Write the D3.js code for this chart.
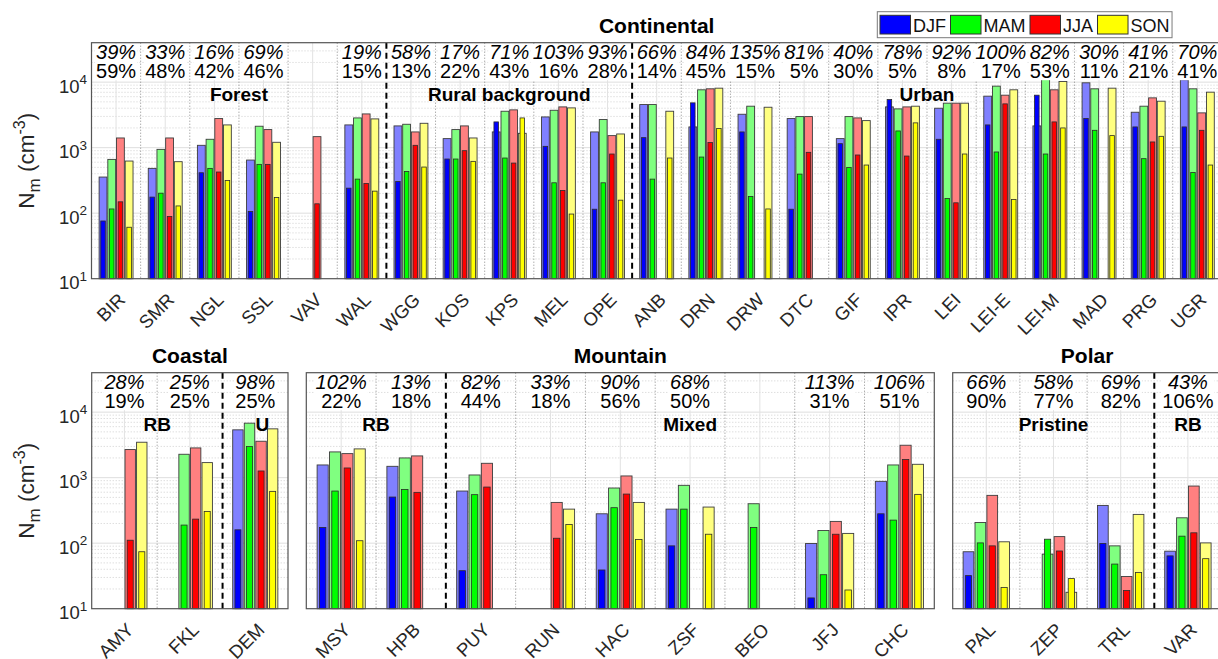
<!DOCTYPE html>
<html><head><meta charset="utf-8">
<script src="https://cdn.jsdelivr.net/npm/d3@7"></script>
<style>body{margin:0;background:#fff} svg{display:block;font-family:"Liberation Sans",Arial,Helvetica,sans-serif}</style>
</head><body><svg id="c" width="1218" height="659"></svg>
<script>
// ---------------- DATA ----------------
const seasons = ["DJF", "MAM", "JJA", "SON"];

// Continental
const contSites = ["BIR","SMR","NGL","SSL","VAV","WAL","WGG","KOS","KPS","MEL","OPE","ANB","DRN","DRW","DTC","GIF","IPR","LEI","LEI-E","LEI-M","MAD","PRG","UGR"];
const contWide = [
  [356,662,1406,625],[483,942,1406,611],[1086,1343,2780,2224],[647,2124,1888,1208],
  [null,null,1473,null],[2224,2844,3273,2748],[2148,2276,1738,2355],[1374,1888,2148,1406],
  [1738,3597,3774,1657],[2944,3723,4190,4045],[1738,2685,1527,1618],[4550,4550,null,3597],
  [2072,7640,7910,8090],[3236,4295,null,4140],[2780,2980,2980,null],[1374,2980,2844,2588],
  [4190,3908,4190,4295],[3998,4775,4775,4775],[6110,8690,6325,7640],[2148,11650,7640,10240],
  [9770,7910,null,8090],[3474,4295,5755,5118],[10870,7910,3396,7030]
];
const contNarrow = [
  [76,116,149,61],[176,202,89,129],[414,483,425,316],[106,556,556,174],
  [null,null,139,null],[241,331,284,217],[305,434,1086,506],[671,671,899,618],
  [2472,695,582,2844],[1048,291,222,97],[115,291,800,158],[1422,331,null,695],
  [4830,719,1195,1955],[1738,180,null,116],[115,395,849,null],[1151,500,773,543],
  [5430,1799,745,2390],[1343,168,144,800],[2224,859,4660,162],[6325,800,2472,2000],
  [2780,1841,null,1527],[2072,679,1222,1490],[2072,419,1841,543]
];
const contPctA = ["39%","33%","16%","69%","","19%","58%","17%","71%","103%","93%","66%","84%","135%","81%","40%","78%","92%","100%","82%","30%","41%","70%"];
const contPctB = ["59%","48%","42%","46%","","15%","13%","22%","43%","16%","28%","14%","45%","15%","5%","30%","5%","8%","17%","53%","11%","21%","41%"];
const contGroups = [["Forest",0,5],["Rural background",6,10],["Urban",11,22]];

// Coastal
const coastSites = ["AMY","FKL","DEM"];
const coastWide = [[null,null,2685,3474],[null,2276,2844,1698],[5370,6790,3597,5560]];
const coastNarrow = [[null,null,111,74],[null,189,233,305],[160,2980,1265,618]];
const coastPctA = ["28%","25%","98%"];
const coastPctB = ["19%","25%","25%"];
const coastGroups = [["RB",0,1],["U",2,2]];

// Mountain
const mountSites = ["MSY","HPB","PUY","RUN","HAC","ZSF","BEO","JFJ","CHC"];
const mountWide = [[1563,2472,2328,2748],[1490,2000,2148,null],[625,1099,1657,null],[null,null,419,331],
  [281,695,1062,419],[331,764,null,356],[null,400,null,null],[99,156,215,141],[879,1563,3126,1600]];
const mountNarrow = [[174,625,1406,109],[506,662,597,null],[38,550,719,null],[null,null,119,193],
  [39,348,562,114],[91,331,null,137],[null,174,null,null],[14.6,33,137,19.3],[281,225,1888,556]];
const mountPctA = ["102%","13%","82%","33%","90%","68%","","113%","106%"];
const mountPctB = ["22%","18%","44%","18%","56%","50%","","31%","51%"];
const mountGroups = [["RB",0,1],["Mixed",2,8]];

// Polar
const polarSites = ["PAL","ZEP","TRL","VAR"];
const polarWide = [[74,207,537,105],[null,68,126,17.8],[377,91,31,275],[75.5,244,745,101]];
const polarNarrow = [[32,101,91,21],[null,115,76,28.8],[99,48,18.9,35.6],[64,128,144,58]];
const polarPctA = ["66%","58%","69%","43%"];
const polarPctB = ["90%","77%","82%","106%"];
const polarGroups = [["Pristine",0,2],["RB",3,3]];

const yTicks = [10, 100, 1000, 10000];

// ---------------- DRAW ----------------
const svg = d3.select("#c");
const darkCol = {DJF:"#0000ff", MAM:"#00ff00", JJA:"#ff0000", SON:"#ffff00"};
const lightCol = {DJF:"#8080ff", MAM:"#80ff80", JJA:"#ff8080", SON:"#ffff80"};

function drawPanel(c) {
  const g = svg.append("g");
  const x = d3.scaleBand().domain(c.sites).range([c.x0, c.x1]);
  const bw = x.bandwidth();
  const xs = d3.scaleBand().domain(seasons).range([bw*0.155, bw*0.845]).paddingInner(0.1);
  const y = d3.scaleLog().domain([10, 40000]).range([c.y1, c.y0]);

  g.append("rect").attr("x", c.x0).attr("y", c.y0).attr("width", c.x1-c.x0).attr("height", c.y1-c.y0).attr("fill","#fff");

  // minor grid
  const minor = [];
  for (let d = 10; d < 40000; d *= 10) for (let k = 2; k <= 9; k++) { if (d*k < 40000) minor.push(d*k); }
  g.selectAll(null).data(minor).enter().append("line")
    .attr("x1", c.x0).attr("x2", c.x1).attr("y1", d => y(d)).attr("y2", d => y(d))
    .attr("stroke", "#cfcfcf").attr("stroke-width", 1).attr("stroke-dasharray", "1,2");
  // major grid
  g.selectAll(null).data(yTicks.slice(1)).enter().append("line")
    .attr("x1", c.x0).attr("x2", c.x1).attr("y1", d => y(d)).attr("y2", d => y(d))
    .attr("stroke", "#dedede").attr("stroke-width", 1);
  // vertical major grid at categories
  g.selectAll(null).data(c.sites).enter().append("line")
    .attr("x1", d => x(d)+bw/2).attr("x2", d => x(d)+bw/2).attr("y1", c.y0).attr("y2", c.y1)
    .attr("stroke", "#e2e2e2").attr("stroke-width", 1);

  // separators
  const groupEnds = new Set(c.groups.slice(0,-1).map(gr => gr[2]));
  for (let i = 0; i < c.sites.length-1; i++) {
    const xb = x(c.sites[i]) + bw;
    const dashed = groupEnds.has(i);
    g.append("line").attr("x1", xb).attr("x2", xb).attr("y1", c.y0).attr("y2", c.y1)
      .attr("stroke", dashed ? "#000" : "#8a8a8a")
      .attr("stroke-width", dashed ? 2 : 1)
      .attr("stroke-dasharray", dashed ? "6,4" : "1,2");
  }

  // bars
  c.sites.forEach((s, i) => {
    seasons.forEach((se, j) => {
      const v = c.wide[i][j];
      if (v == null) return;
      g.append("rect").attr("x", x(s)+xs(se)).attr("width", xs.bandwidth())
        .attr("y", y(v)).attr("height", c.y1 - y(v))
        .attr("fill", lightCol[se]).attr("stroke", "#3c3c3c").attr("stroke-width", 0.9);
    });
    seasons.forEach((se, j) => {
      const v = c.narrow[i][j];
      if (v == null) return;
      const nw = xs.bandwidth()*0.58;
      g.append("rect").attr("x", x(s)+xs(se)+(xs.bandwidth()-nw)/2).attr("width", nw)
        .attr("y", y(v)).attr("height", c.y1 - y(v))
        .attr("fill", darkCol[se]).attr("stroke", "#2a2a2a").attr("stroke-width", 0.8);
    });
  });

  // percentages
  c.sites.forEach((s, i) => {
    if (!c.pctA[i]) return;
    const cx = x(s) + bw/2;
    const tg = g.append("g");
    const t1 = tg.append("text").attr("x", cx).attr("y", c.y0+16.6).attr("text-anchor","middle")
      .attr("font-size", 20).attr("font-style","italic").attr("fill","#000").text(c.pctA[i]);
    const t2 = tg.append("text").attr("x", cx).attr("y", c.y0+35.6).attr("text-anchor","middle")
      .attr("font-size", 20).attr("fill","#000").text(c.pctB[i]);
    const w = Math.max(t1.node().getComputedTextLength(), t2.node().getComputedTextLength());
    tg.insert("rect", "text").attr("x", cx - w/2 - 1).attr("width", w + 2)
      .attr("y", c.y0 + 1.5).attr("height", 36).attr("fill", "#fff");
  });

  // group labels
  c.groups.forEach(gr => {
    let gx = (x(c.sites[gr[1]]) + x(c.sites[gr[2]]) + bw) / 2;
    if (gr[1] === gr[2] && gr[0].length === 1) gx += 7;
    g.append("text").attr("x", gx).attr("y", c.y0 + 58).attr("text-anchor","middle")
      .attr("font-size", 19).attr("font-weight","bold").attr("fill","#000").text(gr[0]);
  });

  // frame
  g.append("rect").attr("x", c.x0).attr("y", c.y0).attr("width", c.x1-c.x0).attr("height", c.y1-c.y0)
    .attr("fill","none").attr("stroke","#555").attr("stroke-width",1.2);

  // x labels
  c.sites.forEach(s => {
    const cx = x(s) + bw/2;
    g.append("text").attr("transform", `translate(${cx+1},${c.y1+13}) rotate(-45)`)
      .attr("text-anchor","end").attr("dy","0.71em").attr("font-size", 18.5).attr("fill","#262626").text(s);
  });

  // title
  g.append("text").attr("x", (c.x0 + c.x1)/2).attr("y", c.y0 - 9.4).attr("text-anchor","middle")
    .attr("font-size", 21).attr("font-weight","bold").attr("fill","#000").text(c.title);

  if (c.showY) {
    yTicks.forEach((v, k) => {
      const t = g.append("text").attr("x", c.x0 - 4.5).attr("y", y(v) + 10.5).attr("text-anchor","end")
        .attr("fill","#262626");
      t.append("tspan").attr("font-size", 18.5).text("10");
      t.append("tspan").attr("font-size", 13.5).attr("dy", -8.5).text(String(k+1));
    });
    const yl = g.append("text").attr("transform", `translate(34,${(c.y0+c.y1)/2}) rotate(-90)`)
      .attr("text-anchor","middle").attr("fill","#262626").attr("font-size", 22.5);
    yl.append("tspan").text("N");
    yl.append("tspan").attr("font-size", 17).attr("dy", 6).text("m");
    yl.append("tspan").attr("dy", -6).text(" (cm");
    yl.append("tspan").attr("font-size", 16).attr("dy", -9).text("-3");
    yl.append("tspan").attr("dy", 9).text(")");
  }
}

drawPanel({x0:91.5, x1:1221.9, y0:42.7, y1:278.7, sites:contSites, wide:contWide, narrow:contNarrow,
  pctA:contPctA, pctB:contPctB, groups:contGroups, title:"Continental", showY:true});
drawPanel({x0:91.7, x1:288, y0:372.7, y1:608.7, sites:coastSites, wide:coastWide, narrow:coastNarrow,
  pctA:coastPctA, pctB:coastPctB, groups:coastGroups, title:"Coastal", showY:true});
drawPanel({x0:306.3, x1:934.3, y0:372.7, y1:608.7, sites:mountSites, wide:mountWide, narrow:mountNarrow,
  pctA:mountPctA, pctB:mountPctB, groups:mountGroups, title:"Mountain", showY:false});
drawPanel({x0:952.7, x1:1221.5, y0:372.7, y1:608.7, sites:polarSites, wide:polarWide, narrow:polarNarrow,
  pctA:polarPctA, pctB:polarPctB, groups:polarGroups, title:"Polar", showY:false});

// legend
const lg = svg.append("g");
const box = lg.append("rect").attr("x", 877.3).attr("y", 11.7).attr("width", 295).attr("height", 26)
  .attr("fill","#fff").attr("stroke","#7a7a7a").attr("stroke-width",1);
let lx = 880;
seasons.forEach(se => {
  lg.append("rect").attr("x", lx).attr("y", 15.3).attr("width", 30.5).attr("height", 18.7)
    .attr("fill", darkCol[se]).attr("stroke","#333").attr("stroke-width",1);
  const t = lg.append("text").attr("x", lx + 33).attr("y", 32.3).attr("font-size", 18).attr("fill","#111").text(se);
  lx += 33 + t.node().getComputedTextLength() + 4.5;
});
box.attr("width", lx - 877.3 - 2);
</script>
</body></html>
